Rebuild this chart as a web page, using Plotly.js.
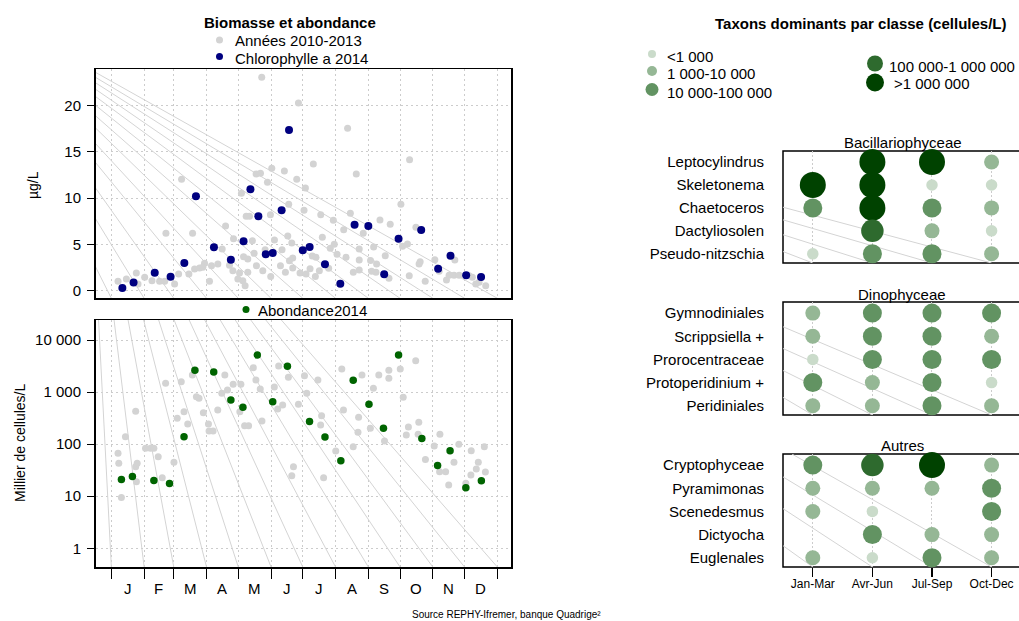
<!DOCTYPE html>
<html>
<head>
<meta charset="utf-8">
<script src="https://cdn.plot.ly/plotly-3.0.1.min.js"></script>
<style>html,body{margin:0;padding:0;background:#fff}#chart{width:1019px;height:621px}</style>
</head>
<body>
<div id="chart"></div>
<script>
// ===================== DATA =====================
const monthLabels = ['J','F','M','A','M','J','J','A','S','O','N','D'];
const monthStartDays = [0,31,59,90,120,151,181,212,243,273,304,334,365];

// Chlorophylle a (µg/L), years 2010-2013 : day of year / value
const chlaHistDay = [
 142.2,176.9,223.4,282,191,231.6,136.9,141,151.7,163.6,
 175.3,147.6,183.5,66.4,123,273.8,167.7,182.2,198,226,
 127.5,130.6,150.4,254,263.7,209.9,219.7,238.2,288,108,
 51.6,76.8,154.2,166.8,199.5,170.6,115.5,133.4,248,280,
 275.4,210.8,207,104.8,145.4,161.4,171.5,190,213.4,221.9,
 259,234.4,245.1,250.8,292,291,305.9,324.8,135,129,
 125,100.7,94.7,88.1,83.4,78.7,73.3,63.6,59.8,92.8,
 111.7,114.9,121.2,129,137.2,143.2,150.7,159.9,164.6,171.5,
 178.4,184.1,187.9,192.9,196.7,205.5,228.8,234.4,246.1,262.5,
 281.7,296.8,310,316.9,319.4,324.1,328.9,341.4,347.7,354,
 344.6,23.6,31.5,38.4,45.6,50.4,14.2,6.3,25.2,124.3,
 126.5,119.6,168.4,86.5,234.4,250.2,338.3,193.5];
const chlaHistVal = [
 23.07,20.29,17.56,14.17,13.7,12.62,12.62,12.69,13.23,12.94,
 12.04,11.72,11.1,12.04,10.53,9.34,9.34,8.69,8.22,8.37,
 8.04,8.04,8.22,7.65,7.18,7.61,6.6,6.2,6.85,7.0,
 6.2,6.2,5.48,5.92,5.77,5.16,5.63,5.41,4.73,5.05,
 4.8,5.01,4.58,4.51,4.44,4.44,3.54,3.75,3.93,3.61,
 3.79,3.32,3.28,2.89,3.14,2.89,3.36,3.32,4.04,3.43,
 3.68,2.89,2.71,2.96,2.46,2.35,1.81,1.81,0.73,1.01,
 2.74,2.17,1.92,1.99,2.71,2.17,1.55,2.71,1.99,2.46,
 1.92,1.81,2.38,1.55,2.17,2.42,1.99,2.24,2.1,1.34,
 1.63,1.01,2.1,1.16,1.66,1.66,1.66,1.45,0.91,0.55,
 0.73,1.92,1.45,1.09,1.01,1.01,1.27,1.01,0.73,1.09,
 0.55,1.27,3.25,2.53,4.51,1.99,1.63,3.61];

// Chlorophylle a 2014
const chla2014Day = [10.4,21,41,56,69,80,97,113,125,131.5,139,146,152.6,161,168,181,187.5,202,216.5,230,243,258,271.6,293,309,320.7,335.5,349.6];
const chla2014Val = [0.29,0.9,1.95,1.5,3.0,10.2,4.7,3.35,5.34,10.96,8.04,3.93,4.08,8.69,17.37,4.37,4.72,2.85,0.76,7.14,7.0,1.77,5.62,6.56,2.38,3.78,1.66,1.48];

// Abondance (milliers de cellules/L), years 2010-2013
const abondHistDay = [
 9.5,7,6.3,13.3,23,23,24.4,23.7,32.3,37,
 40.2,44.3,48.1,59.2,62.3,68.7,72.2,51.3,66.1,76.6,
 87,91.8,92.4,96.2,100.6,107.3,104.4,109.8,115.2,122.5,
 121.5,126,129.8,134.2,136.7,140.8,142.4,154.1,158.2,157.3,
 162,167.4,170.6,172.2,176.9,182.6,184.8,80.4,82.9,
 195.3,198.8,197.9,200.7,212.2,217.9,219.5,233.8,233.2,228.7,
 237,244.9,247.8,252.9,258.3,262.4,262.4,273.2,276,280.9,
 287.8,290.7,278.9,290.1,297,305.3,310.7,316.1,319,324,
 328.6,340.3,347,345.1,340,353.7,352.7,335.2,310.4];
const abondHistVal = [
 9.5,43,67,139,427,37,43,19,83,83,
 83,57.5,22.7,44.8,313,421,244,1472,1585,2128,
 403,244,179,179,453,2128,946,1096,1409,1409,
 421,226,226,2944,1706,1146,279,1253,3170,473,
 565,1919,24.8,37,582,2065,946,817,759,
 1706,352,233,22.7,74,2775,453,327,169,89.5,
 2128,201,1180,2128,115,1837,2618,2775,793,214,
 4010,263,150,155,51,92,155,29.6,16.4,44.8,
 100,75,44.8,33.4,25.6,29.2,89.5,17.7,29.6];

// Abondance 2014
const abond2014Day = [9.5,19.9,40.2,55,68.7,79,96.8,113,124.4,138,152.6,166.5,187.4,202,217,228.7,243.6,257.3,271.6,293.6,308.5,320.3,335.2,349.9];
const abond2014Val = [21,24,20,17.5,139,2620,2430,705,510,5150,655,3120,272,137,48,1683,582,201,5150,129,39,75,14.6,19.9];

// Dominant taxa per class: abundance class per quarter (0 = none, 1 = <1 000 ... 5 = >1 000 000)
const quarters = ['Jan-Mar','Avr-Jun','Jul-Sep','Oct-Dec'];
const classLabels = ['<1 000','1 000-10 000','10 000-100 000','100 000-1 000 000','>1 000 000'];
const bacTaxa = ['Leptocylindrus','Skeletonema','Chaetoceros','Dactyliosolen','Pseudo-nitzschia'];
const bacClass = [[0,5,5,2],[5,5,1,1],[3,5,3,2],[0,4,2,1],[1,3,3,2]];
const dinoTaxa = ['Gymnodiniales','Scrippsiella +','Prorocentraceae','Protoperidinium +','Peridiniales'];
const dinoClass = [[2,3,3,3],[2,3,3,2],[1,3,3,3],[3,2,3,1],[2,2,3,2]];
const autresTaxa = ['Cryptophyceae','Pyramimonas','Scenedesmus','Dictyocha','Euglenales'];
const autresClass = [[3,4,5,2],[2,2,2,3],[2,1,0,3],[0,3,2,2],[2,1,3,2]];

// ===================== STYLE =====================
const W = 1019, H = 621;
const FONT = 'Liberation Sans, Arial, Helvetica, sans-serif';
const px = v => v / W;
const py = v => 1 - v / H;
const GRID = '#cccccc';
const FAN = '#d4d4d4';
const GREY = '#d3d3d3', NAVY = '#000080', GREEN = '#006400';
const classSize = [11.5, 15, 19, 22.5, 26];
const classColor = ['#cadbca', '#95b795', '#629362', '#2e6a2e', '#004200'];
const legendKeySize = [8, 10, 13, 16, 18];

// decorative fan lines (background guides)
const topFanOrigin = [-144, 31.9];
const topFanBottom = -0.82;
const botFanOrigin = [-23, Math.pow(10, 8.65)];
const botFanBottom = Math.pow(10, -0.359);
const bacFan = [[-0.5,1.97,3,4.4],[-0.5,2.52,2,4.4],[-0.5,3.17,1,4.4],[-0.5,3.9,0,4.4]];
const dinoFan = [[-0.5,0.59,3,4.4],[-0.5,1.53,2,4.4],[-0.5,2.48,1,4.4],[-0.5,3.64,0,4.4]];
const autresFan = [[-0.35,-0.48,3,4.4],[-0.5,0.51,2,4.4],[-0.5,1.88,1,4.4],[-0.5,3.48,0,4.4]];

const data = [];
function line(xa, ya, xs, ys) {
  data.push({type:'scatter', mode:'lines', x:xs, y:ys, xaxis:xa, yaxis:ya,
    line:{color:FAN, width:1}, hoverinfo:'skip', showlegend:false});
}
monthStartDays.forEach(d => line('x','y',[topFanOrigin[0], d],[topFanOrigin[1], topFanBottom]));
monthStartDays.forEach(d => line('x2','y2',[botFanOrigin[0], d],[botFanOrigin[1], botFanBottom]));
[[bacFan,'x3','y3'],[dinoFan,'x4','y4'],[autresFan,'x5','y5']].forEach(([f,xa,ya]) =>
  f.forEach(s => line(xa, ya, [s[0], s[2]], [s[1], s[3]])));

function pts(xa, ya, xs, ys, color, size) {
  data.push({type:'scatter', mode:'markers', x:xs, y:ys, xaxis:xa, yaxis:ya,
    marker:{color:color, size:size, opacity:1, line:{width:0}}, hoverinfo:'skip', showlegend:false});
}
pts('x','y', chlaHistDay, chlaHistVal, GREY, 7);
pts('x','y', chla2014Day, chla2014Val, NAVY, 8);
pts('x2','y2', abondHistDay, abondHistVal, GREY, 7);
pts('x2','y2', abond2014Day, abond2014Val, GREEN, 7.5);

function panel(cls, xa, ya) {
  const xs=[], ys=[], sz=[], col=[];
  cls.forEach((row, r) => row.forEach((c, q) => {
    if (c > 0) { xs.push(q); ys.push(r); sz.push(classSize[c-1]); col.push(classColor[c-1]); }
  }));
  data.push({type:'scatter', mode:'markers', x:xs, y:ys, xaxis:xa, yaxis:ya, cliponaxis:false,
    marker:{size:sz, color:col, opacity:1, line:{width:0}}, hoverinfo:'skip', showlegend:false});
}
panel(bacClass,'x3','y3');
panel(dinoClass,'x4','y4');
panel(autresClass,'x5','y5');

// legend keys on a page-sized overlay axis
const legendKeys = [
  {x:219.5, y:40, c:GREY, s:7}, {x:219.5, y:56.5, c:NAVY, s:7}, {x:246, y:309.5, c:GREEN, s:7},
  {x:652, y:54, c:classColor[0], s:legendKeySize[0]}, {x:652, y:71, c:classColor[1], s:legendKeySize[1]},
  {x:652, y:89.5, c:classColor[2], s:legendKeySize[2]}, {x:875, y:63.5, c:classColor[3], s:legendKeySize[3]},
  {x:875, y:82.5, c:classColor[4], s:legendKeySize[4]}];
data.push({type:'scatter', mode:'markers', xaxis:'x6', yaxis:'y6', cliponaxis:false,
  x:legendKeys.map(k=>k.x), y:legendKeys.map(k=>k.y),
  marker:{color:legendKeys.map(k=>k.c), size:legendKeys.map(k=>k.s), opacity:1, line:{width:0}},
  hoverinfo:'skip', showlegend:false});

// ===================== LAYOUT =====================
const xDom = [px(95.5), px(511.3)];
const xRange = [-15, 378.2];
const baseAx = {zeroline:false, fixedrange:true, showline:true, mirror:true, linecolor:'#000', linewidth:1.5};
const gridStyle = {showgrid:true, gridcolor:GRID, griddash:'2px,3px', gridwidth:1};

const panelX = {range:[-0.5,3.46], domain:[px(783),1], tickvals:[0,1,2,3], ticktext:quarters,
  showticklabels:false, ticks:'', zeroline:false, showline:false, fixedrange:true, ...gridStyle, griddash:'2px,2px'};
const panelY = (dom, taxa, anchor) => ({range:[4.4,-0.48], domain:dom, tickvals:[0,1,2,3,4], ticktext:taxa,
  ticks:'', showgrid:false, zeroline:false, showline:false, fixedrange:true, anchor:anchor,
  tickfont:{size:15, color:'#000'}, ticklabelstandoff:18});
const domBac = [py(263), py(151)], domDino = [py(415), py(302)], domAut = [py(567), py(454)];

const annotations = [];
function A(text, x, y, o) {
  annotations.push(Object.assign({text:text, x:px(x), y:py(y), xref:'paper', yref:'paper',
    showarrow:false, xanchor:'center', yanchor:'middle', font:{size:15, color:'#000'}}, o||{}));
}
A('<b>Biomasse et abondance</b>', 290, 23, {font:{size:15}});
A('Années 2010-2013', 233, 41, {xanchor:'left'});
A('Chlorophylle a 2014', 233, 58.5, {xanchor:'left'});
A('Abondance2014', 256, 310, {xanchor:'left'});
A('<b>Taxons dominants par classe (cellules/L)</b>', 860.5, 23.5);
A(classLabels[0], 665, 57, {xanchor:'left'});
A(classLabels[1], 665, 74, {xanchor:'left'});
A(classLabels[2], 665, 92.5, {xanchor:'left'});
A(classLabels[3], 887, 66, {xanchor:'left'});
A(classLabels[4], 892, 83.5, {xanchor:'left'});
A('Bacillariophyceae', 903, 142, {font:{size:15}});
A('Dinophyceae', 902, 294, {font:{size:15}});
A('Autres', 902, 445, {font:{size:15}});
A('µg/L', 33, 185, {textangle:-90, font:{size:14}});
A('Millier de cellules/L', 20, 443, {textangle:-90, font:{size:14}});
A('Source REPHY-Ifremer, banque Quadrige²', 410, 614, {xanchor:'left', font:{size:10}});
monthLabels.forEach((m, i) => {
  annotations.push({text:m, x:(monthStartDays[i]+monthStartDays[i+1])/2, xref:'x2',
    y:py(588.5), yref:'paper', showarrow:false, xanchor:'center', yanchor:'middle', font:{size:15, color:'#000'}});
});

const shapes = [domBac, domDino, domAut].map(d => ({type:'rect', xref:'paper', yref:'paper',
  x0:px(783), x1:1.006, y0:d[0], y1:d[1], line:{color:'#000', width:1.5}, fillcolor:'rgba(0,0,0,0)', layer:'below'}));

const layout = {
  width:W, height:H, margin:{l:0,r:0,t:0,b:0}, paper_bgcolor:'#fff', plot_bgcolor:'rgba(0,0,0,0)',
  showlegend:false, hovermode:false, font:{family:FONT, size:15, color:'#000'},
  xaxis:{...baseAx, ...gridStyle, domain:xDom, range:xRange, tickvals:monthStartDays, showticklabels:false, ticks:'', anchor:'y'},
  yaxis:{...baseAx, ...gridStyle, domain:[py(298.3), py(69)], range:[-0.82,23.97], tickvals:[0,5,10,15,20],
    ticks:'outside', ticklen:7, tickcolor:'#000', tickwidth:1, tickfont:{size:15, color:'#000'}, ticklabelstandoff:3, anchor:'x'},
  xaxis2:{...baseAx, ...gridStyle, domain:xDom, range:xRange, tickvals:monthStartDays, showticklabels:false,
    ticks:'outside', ticklen:10, tickcolor:'#000', tickwidth:1, anchor:'y2'},
  yaxis2:{...baseAx, ...gridStyle, type:'log', domain:[py(567), py(320)], range:[-0.359,4.384],
    tickvals:[1,10,100,1000,10000], ticktext:['1','10','100','1 000','10 000'],
    ticks:'outside', ticklen:7, tickcolor:'#000', tickwidth:1, tickfont:{size:15, color:'#000'}, ticklabelstandoff:3, anchor:'x2'},
  xaxis3:{...panelX, anchor:'y3'},
  yaxis3:panelY(domBac, bacTaxa, 'x3'),
  xaxis4:{...panelX, anchor:'y4'},
  yaxis4:panelY(domDino, dinoTaxa, 'x4'),
  xaxis5:{...panelX, anchor:'y5', showticklabels:true, ticks:'outside', ticklen:9, tickcolor:'#000', tickwidth:1.2,
    tickfont:{size:12, color:'#000'}, ticklabelstandoff:-3},
  yaxis5:panelY(domAut, autresTaxa, 'x5'),
  xaxis6:{domain:[0,1], range:[0,W], visible:false, fixedrange:true, anchor:'y6'},
  yaxis6:{domain:[0,1], range:[H,0], visible:false, fixedrange:true, anchor:'x6'},
  annotations:annotations, shapes:shapes
};

Plotly.newPlot('chart', data, layout, {staticPlot:true, displayModeBar:false});
</script>
</body>
</html>
